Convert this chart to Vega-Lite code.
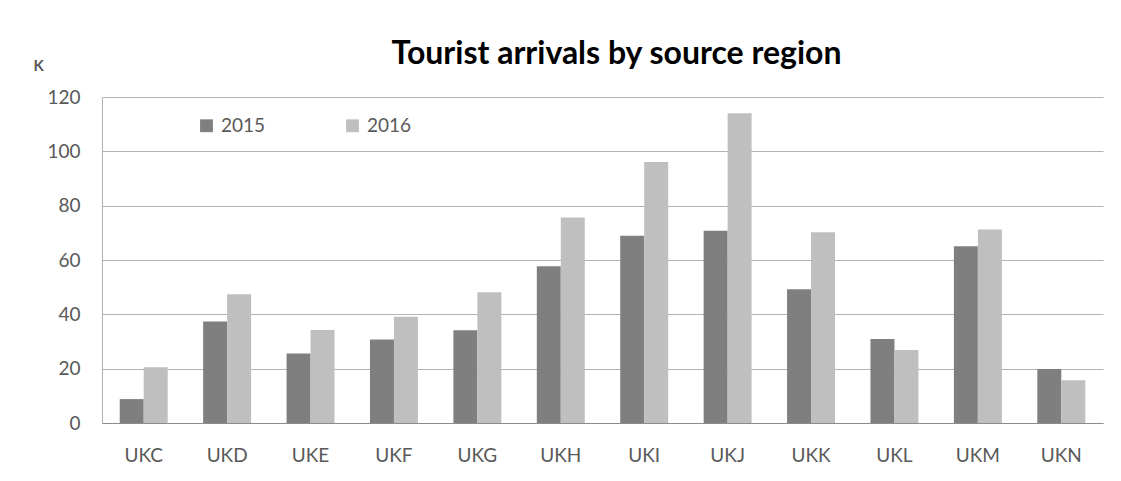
{
  "$schema": "https://vega.github.io/schema/vega-lite/v6.json",
  "autosize": {"type": "none"},
  "padding": {"left": 102, "top": 97, "right": 18, "bottom": 58},
  "width": 1001,
  "height": 326,
  "background": "white",
  "title": {
    "text": "Tourist arrivals by source region",
    "font": "Lato",
    "fontSize": 32,
    "fontWeight": "bold",
    "color": "#000000",
    "anchor": "middle",
    "frame": "group",
    "dx": 14,
    "dy": 72,
    "baseline": "alphabetic",
    "offset": 34
  },
  "data": {
    "values": [
      {"region": "UKC", "year": "2015", "arrivals": 8.8},
      {"region": "UKC", "year": "2016", "arrivals": 20.5},
      {"region": "UKD", "year": "2015", "arrivals": 37.4},
      {"region": "UKD", "year": "2016", "arrivals": 47.4},
      {"region": "UKE", "year": "2015", "arrivals": 25.6},
      {"region": "UKE", "year": "2016", "arrivals": 34.2},
      {"region": "UKF", "year": "2015", "arrivals": 30.7},
      {"region": "UKF", "year": "2016", "arrivals": 39.1},
      {"region": "UKG", "year": "2015", "arrivals": 34.1},
      {"region": "UKG", "year": "2016", "arrivals": 48.1},
      {"region": "UKH", "year": "2015", "arrivals": 57.7},
      {"region": "UKH", "year": "2016", "arrivals": 75.6},
      {"region": "UKI", "year": "2015", "arrivals": 68.9},
      {"region": "UKI", "year": "2016", "arrivals": 96.1},
      {"region": "UKJ", "year": "2015", "arrivals": 70.8},
      {"region": "UKJ", "year": "2016", "arrivals": 114.0},
      {"region": "UKK", "year": "2015", "arrivals": 49.2},
      {"region": "UKK", "year": "2016", "arrivals": 70.2},
      {"region": "UKL", "year": "2015", "arrivals": 30.9},
      {"region": "UKL", "year": "2016", "arrivals": 26.9},
      {"region": "UKM", "year": "2015", "arrivals": 65.1},
      {"region": "UKM", "year": "2016", "arrivals": 71.2},
      {"region": "UKN", "year": "2015", "arrivals": 19.9},
      {"region": "UKN", "year": "2016", "arrivals": 15.7}
    ]
  },
  "mark": {"type": "bar"},
  "encoding": {
    "x": {
      "field": "region",
      "type": "nominal",
      "sort": null,
      "scale": {"paddingInner": 0.425, "paddingOuter": 0.2125},
      "axis": {
        "title": null,
        "labelAngle": 0,
        "labelFont": "Lato",
        "labelFontSize": 19,
        "labelColor": "#595959",
        "labelPadding": 23,
        "ticks": false,
        "domainColor": "#8c8c8c",
        "domainWidth": 1.2,
        "grid": false
      }
    },
    "xOffset": {"field": "year", "type": "nominal"},
    "y": {
      "field": "arrivals",
      "type": "quantitative",
      "scale": {"domain": [0, 120], "nice": false},
      "axis": {
        "values": [0, 20, 40, 60, 80, 100, 120],
        "title": "K",
        "titleAngle": 0,
        "titleAlign": "left",
        "titleBaseline": "middle",
        "titleX": -69,
        "titleY": -32,
        "titleFont": "Lato",
        "titleFontSize": 15,
        "titleFontWeight": "bold",
        "titleColor": "#595959",
        "labelFont": "Lato",
        "labelFontSize": 19,
        "labelColor": "#595959",
        "labelPadding": 22,
        "ticks": false,
        "domainColor": "#b0b0b0",
        "gridColor": "#b3b3b3",
        "gridWidth": 1
      }
    },
    "color": {
      "field": "year",
      "type": "nominal",
      "scale": {"domain": ["2015", "2016"], "range": ["#7f7f7f", "#bfbfbf"]},
      "legend": {
        "title": null,
        "orient": "none",
        "direction": "horizontal",
        "legendX": 95,
        "legendY": 19,
        "padding": 0,
        "symbolType": "square",
        "symbolSize": 165,
        "symbolStrokeWidth": 0,
        "labelFont": "Lato",
        "labelFontSize": 19,
        "labelColor": "#595959",
        "labelOffset": 5,
        "columnPadding": 77
      }
    }
  },
  "config": {
    "view": {"stroke": null}
  }
}
